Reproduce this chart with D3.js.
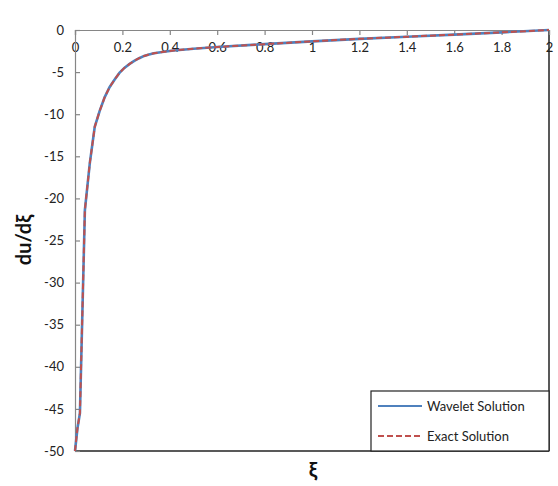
<!DOCTYPE html>
<html>
<head>
<meta charset="utf-8">
<script src="https://cdn.jsdelivr.net/npm/d3@7"></script>
<style>
  html, body { margin: 0; padding: 0; background: #fff; }
  svg { display: block; }
  text { font-family: Lato, "Open Sans", "Liberation Sans", sans-serif; }
</style>
</head>
<body>
<svg id="chart" width="558" height="486"></svg>
<script>
// Derivative of the solution along ξ
const xi = [0, 0.0104, 0.0208, 0.0417, 0.0625, 0.0833, 0.1042, 0.125, 0.1458, 0.1667, 0.1875,
  0.2083, 0.2292, 0.25, 0.2708, 0.2917, 0.3125, 0.3333, 0.375, 0.4167, 0.5, 0.6, 0.8,
  1.0, 1.2, 1.4, 1.6, 1.8, 2.0];
const wavelet = [-50, -47.3, -45.5, -21.4, -15.8, -11.5, -9.6, -8.0, -6.8, -5.9, -5.1,
  -4.5, -4.05, -3.67, -3.35, -3.08, -2.9, -2.77, -2.58, -2.43, -2.22, -2.02, -1.68,
  -1.35, -1.05, -0.8, -0.55, -0.28, 0];
const exact = [-50, -47.3, -45.5, -21.4, -15.8, -11.5, -9.6, -8.0, -6.8, -5.9, -5.1,
  -4.5, -4.05, -3.67, -3.35, -3.08, -2.9, -2.77, -2.58, -2.43, -2.22, -2.02, -1.68,
  -1.35, -1.05, -0.8, -0.55, -0.28, 0];
const xTicks = [0, 0.2, 0.4, 0.6, 0.8, 1, 1.2, 1.4, 1.6, 1.8, 2];
const yTicks = [0, -5, -10, -15, -20, -25, -30, -35, -40, -45, -50];
const seriesNames = ["Wavelet Solution", "Exact Solution"];

const svg = d3.select("#chart");
const plotLeft = 75, plotRight = 549, plotTop = 30, plotBottom = 451;

const x = d3.scaleLinear().domain([0, 2]).range([plotLeft, plotRight]);
const y = d3.scaleLinear().domain([-50, 0]).range([plotBottom, plotTop]);

const axisGrey = "#868686";

// Right and bottom frame of the plot area
svg.append("line").attr("x1", plotLeft).attr("x2", plotRight).attr("y1", plotBottom).attr("y2", plotBottom)
  .attr("stroke", "#222").attr("stroke-width", 1.5);
svg.append("line").attr("x1", plotRight).attr("x2", plotRight).attr("y1", plotTop).attr("y2", plotBottom)
  .attr("stroke", "#222").attr("stroke-width", 1.5);

// x axis along the top (y = 0), ticks pointing into the plot
const xAxis = d3.axisBottom(x).tickValues(xTicks).tickSize(5).tickPadding(8)
  .tickFormat(d => String(d));
const gx = svg.append("g").attr("transform", `translate(0,${y(0)})`).call(xAxis);
gx.select(".domain").attr("stroke", axisGrey).attr("stroke-width", 1.2);
gx.selectAll(".tick line").attr("stroke", axisGrey).attr("stroke-width", 1.2);
gx.selectAll(".tick text").attr("font-size", 13).attr("fill", "#222");

// y axis on the left, ticks pointing into the plot
const yAxis = d3.axisLeft(y).tickValues(yTicks).tickSize(-5).tickPadding(11)
  .tickFormat(d => String(d));
const gy = svg.append("g").attr("transform", `translate(${plotLeft},0)`).call(yAxis);
gy.select(".domain").attr("stroke", axisGrey).attr("stroke-width", 1.2);
gy.selectAll(".tick line").attr("stroke", axisGrey).attr("stroke-width", 1.2);
gy.selectAll(".tick text").attr("font-size", 13).attr("fill", "#222");

// Curves
const line = d3.line().x(d => x(d[0])).y(d => y(d[1]));
svg.append("path").datum(xi.map((v, i) => [v, wavelet[i]]))
  .attr("d", line).attr("fill", "none").attr("stroke", "#4F81BD").attr("stroke-width", 2.6);
svg.append("path").datum(xi.map((v, i) => [v, exact[i]]))
  .attr("d", line).attr("fill", "none").attr("stroke", "#C0504D").attr("stroke-width", 2)
  .attr("stroke-dasharray", "6,3");

// Axis titles
svg.append("text").attr("x", 313).attr("y", 477).attr("text-anchor", "middle")
  .attr("font-size", 21).attr("font-weight", "bold").attr("fill", "#111").text("ξ");
svg.append("text").attr("transform", "translate(31,240) rotate(-90)")
  .attr("text-anchor", "middle").attr("font-size", 20).attr("font-weight", "bold")
  .attr("fill", "#111").text("du/dξ");

// Legend
const lg = svg.append("g");
lg.append("rect").attr("x", 371).attr("y", 391).attr("width", 178).attr("height", 60)
  .attr("fill", "#fff").attr("stroke", "#222").attr("stroke-width", 1.2);
const legendItems = [
  { name: seriesNames[0], color: "#4F81BD", dash: null, w: 2 },
  { name: seriesNames[1], color: "#C0504D", dash: "6,3", w: 2 }
];
legendItems.forEach((it, i) => {
  const ly = 406 + i * 30;
  lg.append("line").attr("x1", 378).attr("x2", 422).attr("y1", ly).attr("y2", ly)
    .attr("stroke", it.color).attr("stroke-width", it.w)
    .attr("stroke-dasharray", it.dash);
  lg.append("text").attr("x", 427).attr("y", ly + 4.5).attr("font-size", 13)
    .attr("fill", "#222").text(it.name);
});
</script>
</body>
</html>
